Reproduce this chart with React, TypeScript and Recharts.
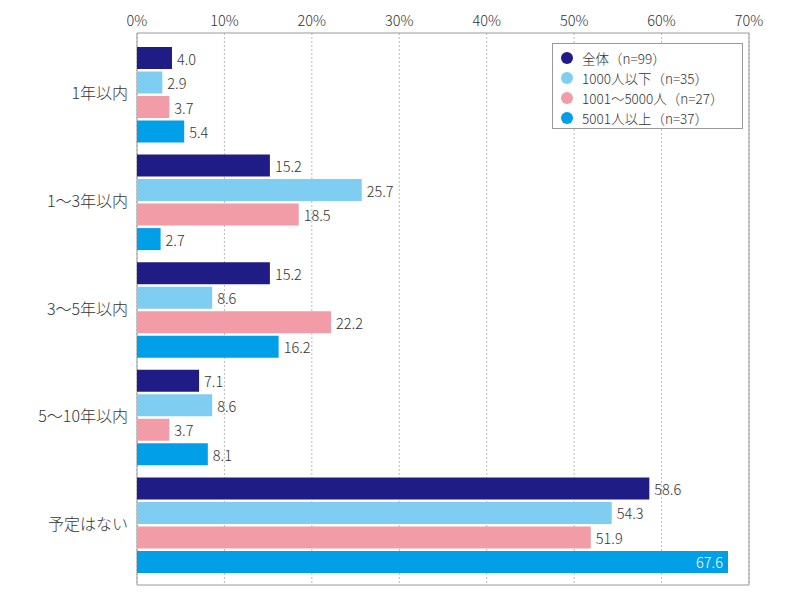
import React from 'react';
import { BarChart, Bar, XAxis, YAxis, CartesianGrid, Legend, LabelList } from 'recharts';

const categories = ['1年以内', '1〜3年以内', '3〜5年以内', '5〜10年以内', '予定はない'];
const seriesNames = ['全体（n=99）', '1000人以下（n=35）', '1001〜5000人（n=27）', '5001人以上（n=37）'];
const seriesKeys = ['all', 'small', 'mid', 'large'];
const seriesColors = ['#201c85', '#80cdf2', '#f19ca6', '#009fe8'];
const allValues = [4.0, 15.2, 15.2, 7.1, 58.6];
const smallValues = [2.9, 25.7, 8.6, 8.6, 54.3];
const midValues = [3.7, 18.5, 22.2, 3.7, 51.9];
const largeValues = [5.4, 2.7, 16.2, 8.1, 67.6];
const xTicks = [0, 10, 20, 30, 40, 50, 60, 70];

const seriesValues = [allValues, smallValues, midValues, largeValues];
const data = categories.map((name, i) => {
  const row: any = { name };
  seriesKeys.forEach((k, j) => {
    row[k] = seriesValues[j][i];
  });
  return row;
});

const FONT = "'Noto Sans CJK JP', 'Noto Sans', sans-serif";

const renderValueLabel = (props: any) => {
  const { x, y, width, height, value } = props;
  const inside = value > 65;
  return (
    <text
      x={inside ? x + width - 5 : x + width + 5}
      y={y + height / 2}
      textAnchor={inside ? 'end' : 'start'}
      dominantBaseline="central"
      fill={inside ? '#ffffff' : '#333333'}
      fontSize={14.5}
      fontWeight={300}
      fontFamily={FONT}
    >
      {Number(value).toFixed(1)}
    </text>
  );
};

const renderLegend = () => (
  <div
    style={{
      border: '1px solid #999',
      background: '#fff',
      paddingTop: 4,
      paddingBottom: 0,
      paddingLeft: 8,
      boxSizing: 'border-box',
      width: 191,
      fontFamily: FONT,
      fontSize: 13.5,
      fontWeight: 300,
      color: '#333',
    }}
  >
    {seriesNames.map((n, i) => (
      <div key={n} style={{ display: 'flex', alignItems: 'center', height: 20 }}>
        <span
          style={{
            display: 'inline-block',
            width: 12,
            height: 12,
            borderRadius: '50%',
            background: seriesColors[i],
            marginRight: 9,
          }}
        />
        <span style={{ whiteSpace: 'nowrap' }}>{n}</span>
      </div>
    ))}
  </div>
);

export default function App() {
  return (
    <div style={{ position: 'absolute', left: 0, top: 0, width: 800, height: 600, background: '#fff' }}>
      <BarChart
        width={800}
        height={600}
        data={data}
        layout="vertical"
        margin={{ top: 0, right: 51, bottom: 15, left: 0 }}
        barCategoryGap={7}
        barGap={2.5}
      >
        <CartesianGrid horizontal={false} strokeDasharray="2 2" stroke="#bbbbbb" />
        <CartesianGrid
          stroke="#999999"
          horizontalCoordinatesGenerator={({ offset }: any) => [offset.top, offset.top + offset.height]}
          verticalCoordinatesGenerator={({ offset }: any) => [offset.left, offset.left + offset.width]}
        />
        <XAxis
          type="number"
          orientation="top"
          domain={[0, 70]}
          ticks={xTicks}
          tickFormatter={(v: number) => `${v}%`}
          height={33}
          axisLine={false}
          tickLine={false}
          tickSize={0}
          tickMargin={7}
          tick={{ fill: '#333', fontSize: 14.5, fontWeight: 300, fontFamily: FONT }}
        />
        <YAxis
          type="category"
          dataKey="name"
          width={137}
          axisLine={false}
          tickLine={false}
          tickSize={0}
          tickMargin={9}
          padding={{ top: 7, bottom: 7 }}
          tick={{ fill: '#333', fontSize: 16, fontWeight: 300, fontFamily: FONT }}
        />
        <Legend
          layout="vertical"
          align="center"
          verticalAlign="middle"
          content={renderLegend}
          wrapperStyle={{ position: 'absolute', left: 552, top: 43, width: 191 }}
        />
        {seriesKeys.map((k, i) => (
          <Bar key={k} dataKey={k} name={seriesNames[i]} fill={seriesColors[i]} isAnimationActive={false}>
            <LabelList dataKey={k} content={renderValueLabel} />
          </Bar>
        ))}
      </BarChart>
    </div>
  );
}
